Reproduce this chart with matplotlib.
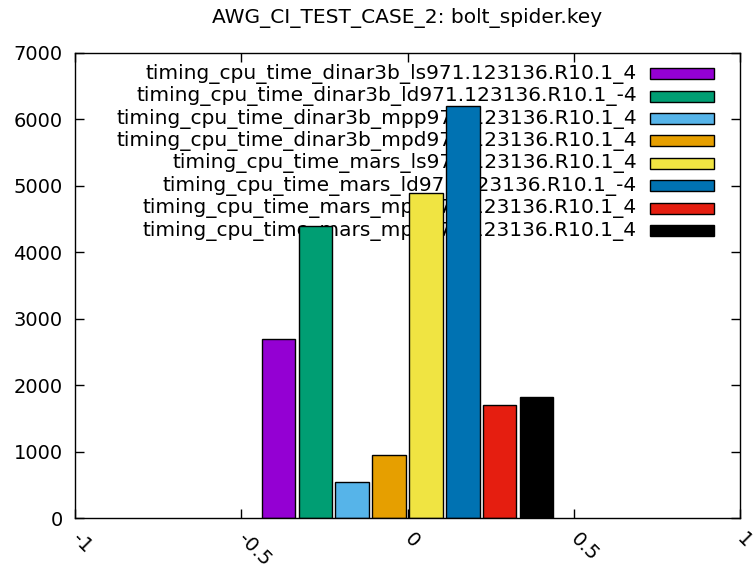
import matplotlib
matplotlib.use("Agg")
import matplotlib.pyplot as plt
from matplotlib.patches import Rectangle
import numpy as np

plt.rcParams['font.family'] = ['DejaVu Sans']

title = "AWG_CI_TEST_CASE_2: bolt_spider.key"
series_names = [
    "timing_cpu_time_dinar3b_ls971.123136.R10.1_4",
    "timing_cpu_time_dinar3b_ld971.123136.R10.1_-4",
    "timing_cpu_time_dinar3b_mpp971.123136.R10.1_4",
    "timing_cpu_time_dinar3b_mpd971.123136.R10.1_4",
    "timing_cpu_time_mars_ls971.123136.R10.1_4",
    "timing_cpu_time_mars_ld971.123136.R10.1_-4",
    "timing_cpu_time_mars_mpp971.123136.R10.1_4",
    "timing_cpu_time_mars_mpd971.123136.R10.1_4",
]
values = [2690, 4390, 540, 950, 4890, 6200, 1700, 1820]
colors = ["#9400D3", "#009E73", "#56B4E9", "#E69F00",
          "#F0E442", "#0072B2", "#E51E10", "#000000"]
xticks = [-1, -0.5, 0, 0.5, 1]
xticklabels = ["-1", "-0.5", "0", "0.5", "1"]
yticks = [0, 1000, 2000, 3000, 4000, 5000, 6000, 7000]

W, H = 753, 568
fig = plt.figure(figsize=(W / 100, H / 100), dpi=100)
L, R, T, B = 75, 740, 52.7, 518
ax = fig.add_axes([L / W, 1 - B / H, (R - L) / W, (B - T) / H])

FS = 14
FS_LEG = 14.5

n = len(values)
slot = 1.0 / (n + 1)
for i, (name, v, c) in enumerate(zip(series_names, values, colors)):
    ax.bar((i - (n - 1) / 2) * slot, v, width=0.1, color=c,
           edgecolor='black', linewidth=1.0, label=name, zorder=3)

ax.set_xlim(-1, 1)
ax.set_ylim(0, 7000)
ax.set_xticks(xticks)
ax.set_xticklabels(xticklabels, rotation=-45, ha='left', va='center',
                   rotation_mode='anchor', fontsize=FS)
for lab in ax.get_xticklabels():
    lab.set_clip_on(False)
ax.set_yticks(yticks)
ax.set_yticklabels([str(t) for t in yticks], fontsize=FS)
ax.tick_params(direction='in', length=6.5, width=1, top=True, right=True,
               color='black')
ax.tick_params(axis='x', pad=13)
ax.tick_params(axis='y', pad=9)
for s in ax.spines.values():
    s.set_linewidth(1.0)
    s.set_zorder(4)

fig.text(0.5 * (L + R) / W, 1 - 18 / H, title, fontsize=FS_LEG,
         ha='center', va='center')

# legend (gnuplot style: text right-aligned, sample box to the right)
def ax_xy(px, py):
    return (px - L) / (R - L), (B - py) / (B - T)

row0, drow = 73.8, 22.4
for i, (name, c) in enumerate(zip(series_names, colors)):
    yc = row0 + i * drow
    tx, ty = ax_xy(637, yc)
    ax.text(tx, ty, name, transform=ax.transAxes, ha='right', va='center',
            fontsize=FS_LEG, zorder=1)
    x0, y0 = ax_xy(650, yc + 5.5)
    x1, y1 = ax_xy(714, yc - 5.5)
    ax.add_patch(Rectangle((x0, y0), x1 - x0, y1 - y0, transform=ax.transAxes,
                           facecolor=c, edgecolor='black', linewidth=1.0,
                           zorder=3))

fig.savefig("out.png", dpi=100)
